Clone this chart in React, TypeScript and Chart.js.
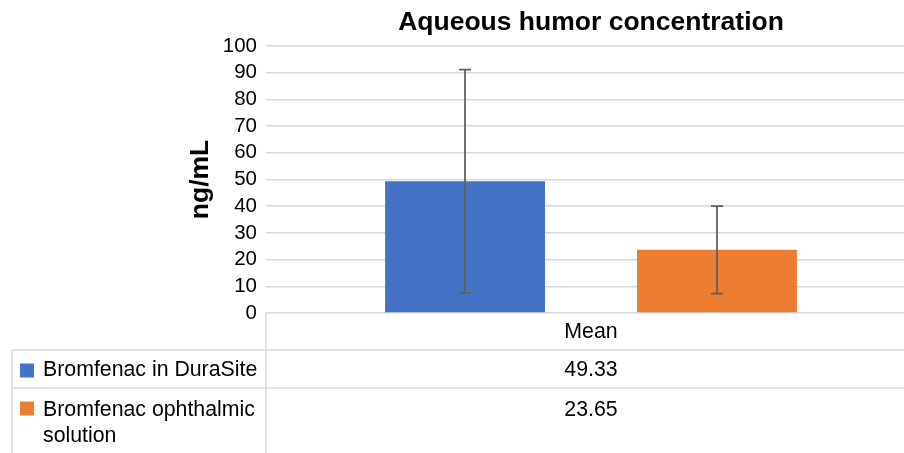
import React, { useEffect, useRef } from "react";
import { Chart, registerables } from "chart.js";

Chart.register(...registerables);

const chartTitle = "Aqueous humor concentration";
const yAxisTitle = "ng/mL";
const categories = ["Mean"];
const seriesNames = ["Bromfenac in DuraSite", "Bromfenac ophthalmic solution"];
const seriesLegendLines = [["Bromfenac in DuraSite"], ["Bromfenac ophthalmic", "solution"]];
const seriesValues = [[49.33], [23.65]];
const seriesErrors = [[41.8], [16.4]];
const seriesColors = ["#4472c4", "#ed7d31"];
const yMin = 0;
const yMax = 100;
const yStep = 10;

const FONT = "'Liberation Sans', Arial, sans-serif";
const GRID = "#d9d9d9";

const overlayPlugin = {
  id: "overlay",
  afterDatasetsDraw(chart: any) {
    const ctx = chart.ctx;
    const yScale = chart.scales.y;
    ctx.save();
    ctx.strokeStyle = "#5f5f5f";
    ctx.lineWidth = 1.75;
    seriesValues.forEach((vals, i) => {
      const meta = chart.getDatasetMeta(i);
      vals.forEach((v, j) => {
        const bar = meta.data[j];
        const e = seriesErrors[i][j];
        const x = Math.round(bar.x);
        const yt = yScale.getPixelForValue(v + e);
        const yb = yScale.getPixelForValue(v - e);
        ctx.beginPath();
        ctx.moveTo(x, yt);
        ctx.lineTo(x, yb);
        ctx.moveTo(x - 6, yt);
        ctx.lineTo(x + 6, yt);
        ctx.moveTo(x - 6, yb);
        ctx.lineTo(x + 6, yb);
        ctx.stroke();
      });
    });
    ctx.restore();
  },
  afterDraw(chart: any) {
    const ctx = chart.ctx;
    const area = chart.chartArea;
    const xScale = chart.scales.x;
    const W = chart.width;
    ctx.save();
    // title
    ctx.fillStyle = "#000";
    ctx.font = `bold 26.5px ${FONT}`;
    ctx.textAlign = "center";
    ctx.textBaseline = "middle";
    ctx.fillText(chartTitle, (area.left + area.right) / 2, 23);
    // y title
    ctx.save();
    ctx.translate(201, (area.top + area.bottom) / 2);
    ctx.rotate(-Math.PI / 2);
    ctx.fillText(yAxisTitle, 0, 0);
    ctx.restore();

    // data table
    const top = area.bottom;
    const rowH = 38;
    const r1 = top + 37;
    const r2 = r1 + rowH;
    ctx.strokeStyle = GRID;
    ctx.lineWidth = 1.5;
    ctx.beginPath();
    ctx.moveTo(area.left, top);
    ctx.lineTo(area.left, chart.height);
    ctx.moveTo(12, r1);
    ctx.lineTo(W, r1);
    ctx.moveTo(12, r2);
    ctx.lineTo(W, r2);
    ctx.moveTo(12, r1);
    ctx.lineTo(12, chart.height);
    ctx.stroke();

    ctx.font = `21.3px ${FONT}`;
    ctx.fillStyle = "#000";
    ctx.textAlign = "center";
    ctx.textBaseline = "middle";
    categories.forEach((c, j) => {
      const cx = xScale.getPixelForValue(j);
      ctx.fillText(c, cx, top + 19);
      seriesValues.forEach((vals, i) => {
        const rowTop = i === 0 ? r1 : r2;
        ctx.fillText(vals[j].toFixed(2), cx, rowTop + (i === 0 ? 20 : 22));
      });
    });
    // legend cells
    ctx.textAlign = "left";
    seriesNames.forEach((name, i) => {
      const rowTop = i === 0 ? r1 : r2;
      ctx.fillStyle = seriesColors[i];
      ctx.fillRect(20, rowTop + 13.5, 14, 14);
      ctx.fillStyle = "#000";
      seriesLegendLines[i].forEach((line, k) => {
        ctx.fillText(line, 43, rowTop + (i === 0 ? 20.5 : 22.5) + k * 26);
      });
    });
    ctx.restore();
  },
};

export default function App() {
  const ref = useRef<HTMLCanvasElement>(null);
  useEffect(() => {
    const canvas = ref.current!;
    const chart = new Chart(canvas, {
      type: "bar",
      data: {
        labels: categories,
        datasets: seriesNames.map((name, i) => ({
          label: name,
          data: seriesValues[i],
          backgroundColor: seriesColors[i],
          borderWidth: 0,
          categoryPercentage: 0.775,
          barPercentage: 0.635,
        })),
      },
      options: {
        animation: false,
        responsive: false,
        devicePixelRatio: 1,
        layout: { padding: { top: 46, bottom: 140, left: 0, right: 0 } },
        plugins: {
          legend: { display: false },
          title: { display: false },
          tooltip: { enabled: false },
        },
        scales: {
          x: { display: false },
          y: {
            min: yMin,
            max: yMax,
            ticks: {
              stepSize: yStep,
              autoSkip: false,
              color: "#000",
              font: { family: FONT, size: 20.5 },
              padding: 9,
            },
            grid: { color: GRID, lineWidth: 1.5, drawTicks: false },
            border: { display: false },
            afterFit: (scale: any) => {
              scale.width = 266;
            },
          },
        },
      },
      plugins: [overlayPlugin],
    });
    return () => chart.destroy();
  }, []);
  return (
    <div
      style={{
        position: "fixed",
        left: 0,
        top: 0,
        width: 904,
        height: 453,
        overflow: "hidden",
        background: "#fff",
      }}
    >
      <canvas ref={ref} width={916} height={453} style={{ width: 916, height: 453, display: "block" }} />
    </div>
  );
}
